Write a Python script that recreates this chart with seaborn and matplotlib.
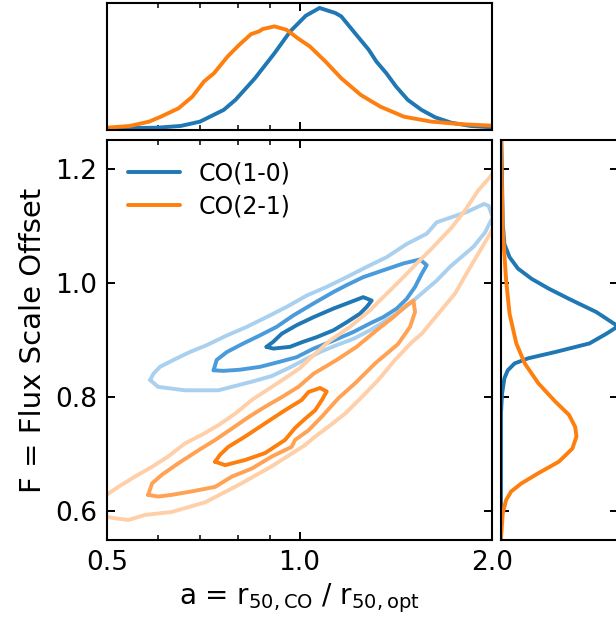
import matplotlib
matplotlib.use('Agg')
import matplotlib.pyplot as plt
import matplotlib.ticker as mticker
import seaborn as sns

# size ratio a = r50,CO / r50,opt and flux scale offset F

# top marginal: posterior on a (normalised)
top_a_co10 = [0.5, 0.599, 0.652, 0.699, 0.761, 0.794, 0.852, 0.914, 0.967, 1.023, 1.075, 1.138,
              1.162, 1.221, 1.283, 1.319, 1.367, 1.416, 1.477, 1.552, 1.630, 1.725, 1.851, 2.0]
top_p_co10 = [0.013, 0.018, 0.032, 0.066, 0.158, 0.237, 0.408, 0.605, 0.776, 0.900, 0.961, 0.921,
              0.895, 0.763, 0.632, 0.539, 0.447, 0.342, 0.237, 0.158, 0.100, 0.058, 0.032, 0.021]
top_a_co21 = [0.5, 0.543, 0.582, 0.607, 0.647, 0.680, 0.709, 0.735, 0.772, 0.805, 0.840, 0.864, 0.876,
              0.914, 0.954, 0.998, 1.038, 1.098, 1.162, 1.247, 1.338, 1.456, 1.607, 1.799, 2.0]
top_p_co21 = [0.018, 0.032, 0.066, 0.105, 0.171, 0.263, 0.382, 0.447, 0.579, 0.671, 0.755, 0.776, 0.795,
              0.816, 0.789, 0.716, 0.658, 0.539, 0.408, 0.276, 0.184, 0.105, 0.066, 0.045, 0.034]

# right marginal: posterior on F (normalised)
right_f_co10 = [1.249, 1.103, 1.068, 1.045, 1.025, 1.007, 0.990, 0.972, 0.949, 0.924, 0.911, 0.894,
                0.879, 0.868, 0.859, 0.847, 0.833, 0.806, 0.772, 0.553]
right_p_co10 = [0.003, 0.015, 0.029, 0.073, 0.145, 0.262, 0.407, 0.581, 0.814, 1.0, 0.901, 0.756,
                0.465, 0.233, 0.116, 0.058, 0.029, 0.009, 0.0, 0.0]
right_f_co21 = [1.249, 1.179, 1.092, 1.004, 0.946, 0.894, 0.859, 0.824, 0.792, 0.769, 0.748, 0.731,
                0.710, 0.687, 0.667, 0.649, 0.635, 0.620, 0.597, 0.553]
right_p_co21 = [0.0, 0.006, 0.015, 0.044, 0.073, 0.131, 0.203, 0.320, 0.465, 0.581, 0.634, 0.645,
                0.610, 0.494, 0.320, 0.174, 0.087, 0.044, 0.015, 0.0]

# joint posterior contours, CO(1-0): outer, middle, inner
co10_outer_a = [0.584, 0.591, 0.605, 0.635, 0.674, 0.716, 0.770, 0.827, 0.888, 0.955, 1.027, 1.103,
                1.185, 1.274, 1.369, 1.471, 1.581, 1.639, 1.826, 1.943, 1.975, 2.005, 1.95, 1.870,
                1.782, 1.719, 1.639, 1.562, 1.489, 1.419, 1.352, 1.289, 1.214, 1.143, 1.077, 1.017,
                0.966, 0.905, 0.842, 0.747, 0.662, 0.601, 0.584]
co10_outer_f = [0.830, 0.841, 0.853, 0.865, 0.879, 0.891, 0.908, 0.923, 0.940, 0.958, 0.978, 0.993,
                1.010, 1.028, 1.045, 1.068, 1.086, 1.106, 1.124, 1.138, 1.135, 1.115, 1.088, 1.063,
                1.043, 1.028, 1.004, 0.984, 0.964, 0.946, 0.931, 0.917, 0.902, 0.891, 0.879, 0.865,
                0.852, 0.837, 0.827, 0.812, 0.812, 0.818, 0.830]
co10_mid_a = [0.734, 0.742, 0.770, 0.817, 0.867, 0.921, 0.978, 1.052, 1.130, 1.185, 1.258, 1.352,
              1.454, 1.543, 1.581, 1.553, 1.516, 1.471, 1.419, 1.352, 1.289, 1.214, 1.130, 1.052,
              0.990, 0.932, 0.867, 0.807, 0.760, 0.734]
co10_mid_f = [0.847, 0.865, 0.879, 0.894, 0.908, 0.923, 0.943, 0.964, 0.984, 0.996, 1.010, 1.022,
              1.034, 1.041, 1.031, 1.016, 0.993, 0.972, 0.955, 0.940, 0.929, 0.914, 0.899, 0.885,
              0.870, 0.862, 0.853, 0.848, 0.846, 0.847]
co10_in_a = [0.888, 0.910, 0.938, 0.990, 1.052, 1.130, 1.199, 1.258, 1.297, 1.274, 1.243, 1.185,
             1.130, 1.064, 1.014, 0.966, 0.910, 0.888]
co10_in_f = [0.888, 0.897, 0.911, 0.926, 0.940, 0.955, 0.966, 0.975, 0.969, 0.958, 0.946, 0.931,
             0.917, 0.905, 0.897, 0.888, 0.885, 0.888]

# joint posterior contours, CO(2-1): outer, middle, inner
co21_outer_a = [0.496, 0.521, 0.553, 0.588, 0.623, 0.662, 0.703, 0.747, 0.793, 0.842, 0.894, 0.949,
                1.002, 1.039, 1.116, 1.199, 1.289, 1.369, 1.454, 1.525, 1.600, 1.730, 1.815, 1.904,
                1.985, 2.02, 2.02, 1.929, 1.837, 1.750, 1.648, 1.553, 1.498, 1.410, 1.328, 1.251,
                1.178, 1.109, 1.058, 1.020, 0.905, 0.802, 0.712, 0.631, 0.574, 0.540, 0.515, 0.496]
co21_outer_f = [0.627, 0.643, 0.661, 0.678, 0.696, 0.719, 0.734, 0.751, 0.771, 0.795, 0.814, 0.833,
                0.851, 0.868, 0.899, 0.923, 0.952, 0.981, 1.010, 1.034, 1.057, 1.097, 1.127, 1.162,
                1.185, 1.197, 1.100, 1.062, 1.022, 0.981, 0.946, 0.911, 0.896, 0.865, 0.830, 0.800,
                0.771, 0.748, 0.731, 0.716, 0.679, 0.646, 0.616, 0.599, 0.594, 0.585, 0.588, 0.591]
co21_mid_a = [0.580, 0.588, 0.609, 0.646, 0.695, 0.738, 0.784, 0.832, 0.883, 0.938, 0.996, 1.052,
              1.143, 1.228, 1.320, 1.402, 1.471, 1.507, 1.516, 1.489, 1.426, 1.313, 1.221, 1.150,
              1.084, 1.033, 0.984, 0.972, 0.905, 0.842, 0.784, 0.738, 0.678, 0.631, 0.601, 0.580]
co21_mid_f = [0.629, 0.649, 0.664, 0.684, 0.707, 0.725, 0.745, 0.765, 0.783, 0.800, 0.818, 0.841,
              0.865, 0.888, 0.917, 0.940, 0.961, 0.969, 0.949, 0.923, 0.893, 0.859, 0.824, 0.798,
              0.766, 0.742, 0.725, 0.713, 0.696, 0.675, 0.661, 0.643, 0.635, 0.629, 0.626, 0.629]
co21_in_a = [0.738, 0.751, 0.774, 0.822, 0.883, 0.949, 1.008, 1.033, 1.077, 1.103, 1.084, 1.058,
             1.020, 0.984, 0.949, 0.883, 0.822, 0.765, 0.738]
co21_in_f = [0.687, 0.699, 0.713, 0.731, 0.754, 0.777, 0.795, 0.809, 0.816, 0.810, 0.795, 0.777,
             0.762, 0.746, 0.725, 0.702, 0.690, 0.681, 0.687]

blues = ['#a9d0ef', '#4a9bdc', '#1f77b4']
oranges = ['#ffcfa8', '#ffa254', '#ff7f0e']

sns.set_style("ticks")
plt.rcParams['font.family'] = ['DejaVu Sans']
plt.rcParams['axes.linewidth'] = 1.5
for key in ['text.color', 'axes.labelcolor', 'axes.edgecolor', 'xtick.color', 'ytick.color']:
    plt.rcParams[key] = 'black'

fig = plt.figure(figsize=(6.16, 6.19), dpi=100)
ax = fig.add_axes([107 / 616, 79 / 619, 385 / 616, 400 / 619])
ax_top = fig.add_axes([107 / 616, 489 / 619, 385 / 616, 127 / 619], sharex=ax)
ax_right = fig.add_axes([501 / 616, 79 / 619, 117 / 616, 400 / 619], sharey=ax)

lw = 2.8

# main panel contours
blue_sets = [(co10_outer_a, co10_outer_f), (co10_mid_a, co10_mid_f), (co10_in_a, co10_in_f)]
orange_sets = [(co21_outer_a, co21_outer_f), (co21_mid_a, co21_mid_f), (co21_in_a, co21_in_f)]
for i, (xa, yf) in enumerate(blue_sets):
    sns.lineplot(x=xa, y=yf, sort=False, estimator=None, color=blues[i], lw=lw, ax=ax,
                 label='CO(1-0)' if i == 2 else None, legend=False)
for i, (xa, yf) in enumerate(orange_sets):
    sns.lineplot(x=xa, y=yf, sort=False, estimator=None, color=oranges[i], lw=lw, ax=ax,
                 label='CO(2-1)' if i == 2 else None, legend=False)

ax.set_xscale('log')
ax.set_xlim(0.5, 2.0)
ax.set_ylim(0.55, 1.25)
ax.xaxis.set_major_locator(mticker.FixedLocator([0.5, 1.0, 2.0]))
ax.xaxis.set_major_formatter(mticker.FormatStrFormatter('%.1f'))
ax.xaxis.set_minor_locator(mticker.LogLocator(subs=range(2, 10)))
ax.xaxis.set_minor_formatter(mticker.NullFormatter())
ax.yaxis.set_major_locator(mticker.FixedLocator([0.6, 0.8, 1.0, 1.2]))
ax.yaxis.set_major_formatter(mticker.FormatStrFormatter('%.1f'))
ax.tick_params(which='both', direction='in', top=True, right=True)
ax.tick_params(which='major', length=6, width=1.4, labelsize=19, pad=7)
ax.tick_params(which='minor', length=3.5, width=1.1)
ax.set_xlabel(r'a = r$_{50,\rm CO}$ / r$_{50,\rm opt}$', fontsize=20, labelpad=4)
ax.set_ylabel('F = Flux Scale Offset', fontsize=21, labelpad=6)
ax.legend(loc='upper left', frameon=False, fontsize=17, handlelength=2.2,
          handletextpad=0.8, labelspacing=0.4)

# top marginal
sns.lineplot(x=top_a_co10, y=top_p_co10, sort=False, estimator=None, color=blues[2], lw=lw, ax=ax_top)
sns.lineplot(x=top_a_co21, y=top_p_co21, sort=False, estimator=None, color=oranges[2], lw=lw, ax=ax_top)
ax_top.set_ylim(0, 1.0)
ax_top.tick_params(which='both', direction='in', top=True, bottom=True, labelbottom=False,
                   left=False, labelleft=False)
ax_top.tick_params(which='major', length=6, width=1.4)
ax_top.tick_params(which='minor', length=3.5, width=1.1)
ax_top.set_xlabel('')
ax_top.set_ylabel('')

# right marginal
sns.lineplot(x=right_p_co10, y=right_f_co10, sort=False, estimator=None, orient='y',
             color=blues[2], lw=lw, ax=ax_right)
sns.lineplot(x=right_p_co21, y=right_f_co21, sort=False, estimator=None, orient='y',
             color=oranges[2], lw=lw, ax=ax_right)
ax_right.set_xlim(0, 1.0)
ax_right.tick_params(which='both', direction='in', left=True, right=True, labelleft=False,
                     bottom=False, labelbottom=False)
ax_right.tick_params(which='major', length=6, width=1.4)
ax_right.set_xlabel('')
ax_right.set_ylabel('')

fig.savefig('out.png', dpi=100)
